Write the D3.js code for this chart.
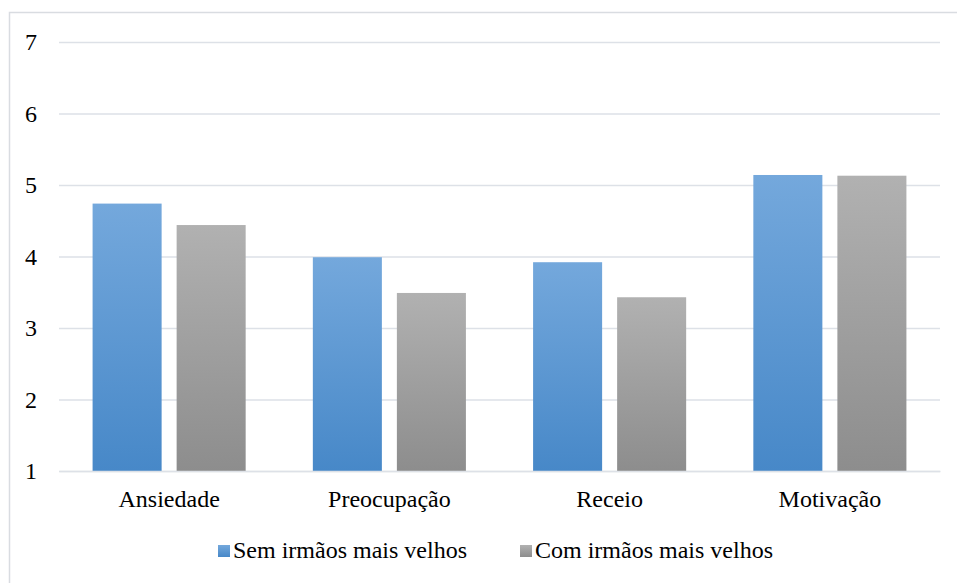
<!DOCTYPE html>
<html>
<head>
<meta charset="utf-8">
<script src="https://cdn.jsdelivr.net/npm/d3@7"></script>
<style>
  body { margin: 0; background: #fff; }
</style>
</head>
<body>
<div id="chart"></div>
<script>
// data
var categories = ["Ansiedade", "Preocupação", "Receio", "Motivação"];
var series = ["Sem irmãos mais velhos", "Com irmãos mais velhos"];
var semIrmaos = [4.74, 3.99, 3.92, 5.14];
var comIrmaos = [4.44, 3.49, 3.43, 5.13];
var yTicks = [1, 2, 3, 4, 5, 6, 7];

var w = 957, h = 583;
var plotLeft = 59, plotRight = 940, plotTop = 42, plotBottom = 471;
var serif = "'Liberation Serif', 'Times New Roman', serif";
var fontSize = "24px";

var svg = d3.select("#chart").append("svg")
    .attr("width", w)
    .attr("height", h);

// gradients like the excel fill
var defs = svg.append("defs");
var grads = [
    {id: "gBlue", top: "#74a8dc", bottom: "#4788c8"},
    {id: "gGray", top: "#b1b1b1", bottom: "#8d8d8d"}
];
grads.forEach(function(g) {
    var lg = defs.append("linearGradient")
        .attr("id", g.id)
        .attr("x1", 0).attr("y1", 0).attr("x2", 0).attr("y2", 1);
    lg.append("stop").attr("offset", "0%").attr("stop-color", g.top);
    lg.append("stop").attr("offset", "100%").attr("stop-color", g.bottom);
});

// outer frame
svg.append("rect")
    .attr("x", 9.5).attr("y", 12.5)
    .attr("width", 1000).attr("height", 700)
    .attr("fill", "none")
    .attr("stroke", "#d9dce1")
    .attr("stroke-width", 1.5);

var x0 = d3.scaleBand()
    .domain(categories)
    .range([plotLeft, plotRight])
    .paddingInner(0.305)
    .paddingOuter(0.1525);

var x1 = d3.scaleBand()
    .domain(series)
    .range([0, x0.bandwidth()])
    .paddingInner(0.1786);

var y = d3.scaleLinear()
    .domain([1, 7])
    .range([plotBottom, plotTop]);

// gridlines + y labels
var yAxis = d3.axisLeft(y)
    .tickValues(yTicks)
    .tickSize(-(plotRight - plotLeft))
    .tickPadding(22)
    .tickFormat(d3.format("d"));

var ga = svg.append("g")
    .attr("transform", "translate(" + plotLeft + ",0)")
    .call(yAxis);
ga.select(".domain").remove();
ga.selectAll(".tick line")
    .attr("stroke", "#dde1e7")
    .attr("stroke-width", 1.5);
ga.selectAll(".tick text")
    .style("font-size", fontSize)
    .style("font-family", serif)
    .attr("fill", "#000");

// bars
var rows = categories.map(function(c, i) {
    return {cat: c, vals: [semIrmaos[i], comIrmaos[i]]};
});

var groups = svg.append("g").selectAll("g")
    .data(rows)
    .enter()
    .append("g")
    .attr("transform", function(d) { return "translate(" + x0(d.cat) + ",0)"; });

groups.selectAll("rect")
    .data(function(d) {
        return d.vals.map(function(v, j) { return {s: series[j], v: v, j: j}; });
    })
    .enter()
    .append("rect")
    .attr("x", function(d) { return x1(d.s); })
    .attr("y", function(d) { return y(d.v); })
    .attr("width", x1.bandwidth())
    .attr("height", function(d) { return y(1) - y(d.v); })
    .attr("fill", function(d) { return d.j == 0 ? "url(#gBlue)" : "url(#gGray)"; });

// category labels
var xAxis = d3.axisBottom(x0).tickSize(0).tickPadding(19);
var gx = svg.append("g")
    .attr("transform", "translate(0," + plotBottom + ")")
    .call(xAxis);
gx.select(".domain")
    .attr("stroke", "#dde1e7")
    .attr("stroke-width", 1.5);
gx.selectAll(".tick text")
    .style("font-size", fontSize)
    .style("font-family", serif)
    .attr("fill", "#000");

// legend
var legendX = [218, 520];
var lg = svg.append("g").selectAll("g")
    .data(series)
    .enter()
    .append("g")
    .attr("transform", function(d, i) { return "translate(" + legendX[i] + ",545)"; });
lg.append("rect")
    .attr("width", 12).attr("height", 12)
    .attr("fill", function(d, i) { return i == 0 ? "url(#gBlue)" : "url(#gGray)"; });
lg.append("text")
    .attr("x", 15)
    .attr("y", 13)
    .style("font-size", fontSize)
    .style("font-family", serif)
    .attr("fill", "#000")
    .text(function(d) { return d; });
</script>
</body>
</html>
